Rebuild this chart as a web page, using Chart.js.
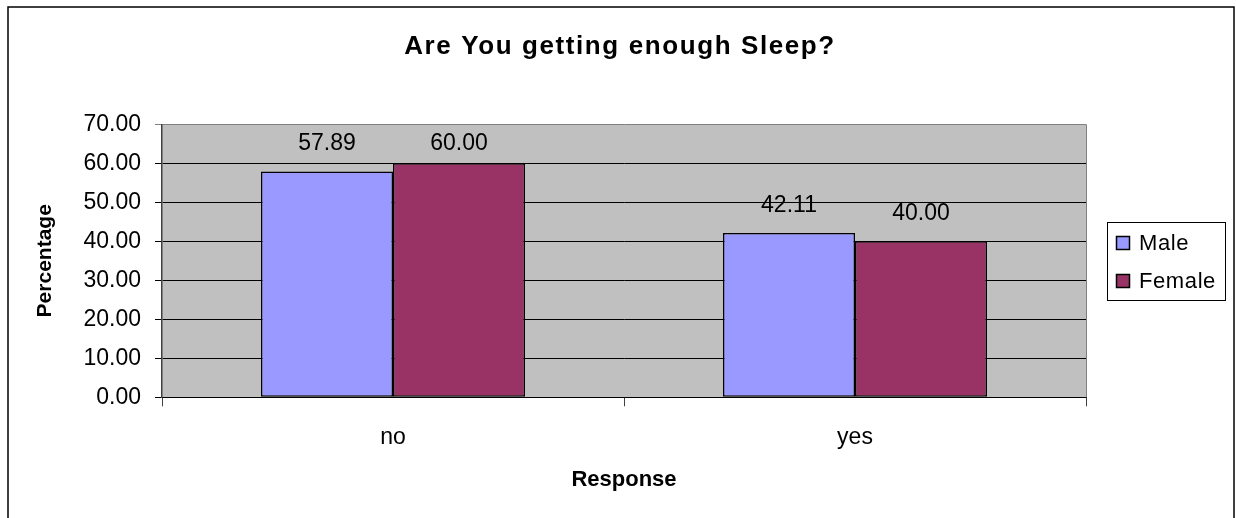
<!DOCTYPE html>
<html>
<head>
<meta charset="utf-8">
<script src="https://cdn.jsdelivr.net/npm/chart.js@4.4.1/dist/chart.umd.min.js"></script>
<style>
  html, body { margin: 0; padding: 0; background: #ffffff; }
  #c { display: block; }
</style>
</head>
<body>
<canvas id="c" width="1236" height="518"></canvas>
<script>
const chartTitle = "Are You getting enough Sleep?";
const xAxisTitle = "Response";
const yAxisTitle = "Percentage";
const categories = ["no", "yes"];
const seriesNames = ["Male", "Female"];
const maleValues = [57.89, 42.11];
const femaleValues = [60.00, 40.00];
const yTicks = [0, 10, 20, 30, 40, 50, 60, 70];

const FONT = "'Liberation Sans', Arial, sans-serif";
const colors = ["#9999FF", "#993366"];

const decorPlugin = {
  id: 'decor',
  beforeDraw(chart) {
    const { ctx, chartArea: a } = chart;
    ctx.save();
    ctx.fillStyle = '#ffffff';
    ctx.fillRect(0, 0, chart.width, chart.height);
    ctx.fillStyle = '#C0C0C0';
    ctx.fillRect(a.left, a.top, a.right - a.left, a.bottom - a.top);
    ctx.restore();
  },
  afterDraw(chart) {
    const { ctx, chartArea: a } = chart;
    ctx.save();
    // plot area right border
    ctx.strokeStyle = '#808080';
    ctx.lineWidth = 1;
    ctx.beginPath();
    ctx.moveTo(Math.round(a.right) + 0.5, a.top);
    ctx.lineTo(Math.round(a.right) + 0.5, a.bottom);
    ctx.stroke();

    // data labels
    ctx.fillStyle = '#000';
    ctx.font = "23px " + FONT;
    ctx.textAlign = 'center';
    ctx.textBaseline = 'middle';
    chart.data.datasets.forEach((ds, di) => {
      const meta = chart.getDatasetMeta(di);
      meta.data.forEach((bar, i) => {
        let y = bar.y - 27.5;
        if (y < a.top + 19) y = a.top + 19;
        ctx.fillText(ds.data[i].toFixed(2), bar.x, y);
      });
    });

    // title
    ctx.font = "bold 26px " + FONT;
    try { ctx.letterSpacing = '1.6px'; } catch (e) {}
    ctx.textBaseline = 'alphabetic';
    ctx.fillText(chartTitle, 620, 54);
    try { ctx.letterSpacing = '0px'; } catch (e) {}

    // x axis title
    ctx.font = "bold 22px " + FONT;
    ctx.textBaseline = 'middle';
    ctx.fillText(xAxisTitle, (a.left + a.right) / 2, 479.5);

    // y axis title
    ctx.save();
    ctx.translate(45, (a.top + a.bottom) / 2);
    ctx.rotate(-Math.PI / 2);
    ctx.font = "bold 21px " + FONT;
    ctx.fillText(yAxisTitle, 0, 0);
    ctx.restore();

    // legend
    const lx = 1107.5, ly = 222.5, lw = 118, lh = 78;
    ctx.fillStyle = '#ffffff';
    ctx.fillRect(lx, ly, lw, lh);
    ctx.strokeStyle = '#000';
    ctx.lineWidth = 1;
    ctx.strokeRect(lx, ly, lw, lh);
    ctx.font = "22px " + FONT;
    ctx.textAlign = 'left';
    ctx.textBaseline = 'middle';
    try { ctx.letterSpacing = '0.6px'; } catch (e) {}
    seriesNames.forEach((name, i) => {
      const cy = 243 + i * 38;
      ctx.fillStyle = colors[i];
      ctx.fillRect(1116.5, cy - 6.5, 13, 13);
      ctx.strokeStyle = '#000';
      ctx.lineWidth = 1.5;
      ctx.strokeRect(1116.5, cy - 6.5, 13, 13);
      ctx.fillStyle = '#000';
      ctx.fillText(name, 1139, cy + 1);
    });
    try { ctx.letterSpacing = '0px'; } catch (e) {}

    // outer border
    ctx.strokeStyle = '#000';
    ctx.lineWidth = 1.5;
    ctx.strokeRect(8, 7, 1226, 530);
    ctx.restore();
  }
};

new Chart(document.getElementById('c'), {
  type: 'bar',
  data: {
    labels: categories,
    datasets: [
      { label: seriesNames[0], data: maleValues, backgroundColor: colors[0], borderColor: '#000', borderWidth: 1.5, borderSkipped: false },
      { label: seriesNames[1], data: femaleValues, backgroundColor: colors[1], borderColor: '#000', borderWidth: 1.5, borderSkipped: false }
    ]
  },
  options: {
    responsive: false,
    animation: false,
    devicePixelRatio: 1,
    layout: { padding: { left: 0, top: 124.3, right: 1236 - 1086, bottom: 0 } },
    plugins: { legend: { display: false }, title: { display: false }, tooltip: { enabled: false } },
    datasets: { bar: { categoryPercentage: 0.5714, barPercentage: 1.0 } },
    scales: {
      x: {
        type: 'category',
        offset: true,
        grid: { offset: true, drawOnChartArea: false, drawTicks: true, tickLength: 9, color: '#404040' },
        border: { display: true, color: '#000', width: 1 },
        ticks: { color: '#000', font: { family: FONT, size: 23 }, padding: 18 },
        afterFit(scale) { scale.height = 518 - 397.3; }
      },
      y: {
        min: 0,
        max: 70,
        afterBuildTicks(scale) { scale.ticks = yTicks.map(v => ({ value: v })); },
        grid: {
          drawTicks: true,
          tickLength: 7,
          color: (ctx) => (ctx.tick && ctx.tick.value === 70) ? '#808080' : '#000',
          lineWidth: 1
        },
        border: { display: true, color: '#404040', width: 1.5 },
        ticks: {
          color: '#000',
          font: { family: FONT, size: 23 },
          padding: 14,
          callback: (v) => Number(v).toFixed(2)
        },
        afterFit(scale) { scale.width = 162; }
      }
    }
  },
  plugins: [decorPlugin]
});
</script>
</body>
</html>
